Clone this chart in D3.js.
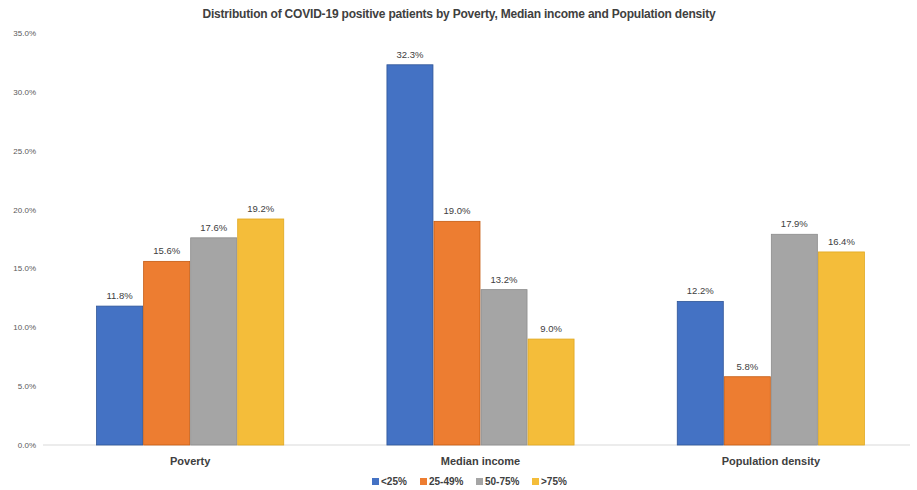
<!DOCTYPE html>
<html><head><meta charset="utf-8">
<script src="https://cdn.jsdelivr.net/npm/d3@7"></script>
<style>body{margin:0;background:#fff}svg{display:block}text{font-family:"Liberation Sans",Arial,sans-serif}</style>
</head><body><svg id="c" width="917" height="490"></svg>
<script>
const categories = ["Poverty", "Median income", "Population density"];
const seriesNames = ["<25%", "25-49%", "50-75%", ">75%"];
const poverty = [11.8, 15.6, 17.6, 19.2];
const medianIncome = [32.3, 19.0, 13.2, 9.0];
const populationDensity = [12.2, 5.8, 17.9, 16.4];
const yTicks = [0, 5, 10, 15, 20, 25, 30, 35];
const colors = ["#4472C4", "#ED7D31", "#A5A5A5", "#F4BD3A"];
const strokes = ["#2F5597", "#C55A11", "#8C8C8C", "#E0A820"];

const rows = [poverty, medianIncome, populationDensity];
const svg = d3.select("#c");

const y = d3.scaleLinear().domain([0, 35]).range([445, 33]);
const x0 = d3.scaleBand().domain(categories).range([45, 916]).padding(0);
const groupW = x0.bandwidth() * 0.648;
const x1 = d3.scaleBand().domain(seriesNames).range([0, groupW]).padding(0);

svg.append("text").attr("x", 459).attr("y", 18).attr("text-anchor", "middle")
  .attr("font-size", 12).attr("letter-spacing", -0.2).attr("font-weight", "bold").attr("fill", "#404040")
  .text("Distribution of COVID-19 positive patients by Poverty, Median income and Population density");

// y tick labels
const yAxis = d3.axisLeft(y).tickValues(yTicks).tickFormat(d => d.toFixed(1) + "%").tickSize(0).tickPadding(0);
const gy = svg.append("g").attr("transform", "translate(36,0)").call(yAxis);
gy.select(".domain").remove();
gy.selectAll("text").attr("font-size", 8).attr("fill", "#595959");

// baseline
svg.append("line").attr("x1", 43).attr("x2", 910).attr("y1", y(0)).attr("y2", y(0))
  .attr("stroke", "#D9D9D9").attr("stroke-width", 1);

const groups = svg.selectAll("g.grp").data(categories).join("g").attr("class", "grp")
  .attr("transform", d => `translate(${x0(d) + (x0.bandwidth() - groupW) / 2},0)`);

groups.each(function(cat, ci) {
  const g = d3.select(this);
  const vals = rows[ci].map((v, si) => ({ s: seriesNames[si], v, si }));
  g.selectAll("rect").data(vals).join("rect")
    .attr("x", d => x1(d.s) + 0.5).attr("width", x1.bandwidth() - 1)
    .attr("y", d => y(d.v)).attr("height", d => y(0) - y(d.v))
    .attr("fill", d => colors[d.si]).attr("stroke", d => strokes[d.si]).attr("stroke-width", 0.8);
  g.selectAll("text").data(vals).join("text")
    .attr("x", d => x1(d.s) + x1.bandwidth() / 2).attr("y", d => y(d.v) - 7)
    .attr("text-anchor", "middle").attr("font-size", 9.5).attr("fill", "#404040")
    .text(d => d.v.toFixed(1) + "%");
});

// category labels
svg.selectAll("text.cat").data(categories).join("text").attr("class", "cat")
  .attr("x", d => x0(d) + x0.bandwidth() / 2).attr("y", 465)
  .attr("text-anchor", "middle").attr("font-size", 11).attr("font-weight", "bold").attr("fill", "#404040")
  .text(d => d);

// legend
const legX = [372, 420, 476, 532];
const leg = svg.selectAll("g.leg").data(seriesNames).join("g").attr("class", "leg")
  .attr("transform", (d, i) => `translate(${legX[i]},478)`);
leg.append("rect").attr("width", 7).attr("height", 7).attr("fill", (d, i) => colors[i]);
leg.append("text").attr("x", 9).attr("y", 7).attr("font-size", 10).attr("font-weight", "bold").attr("fill", "#404040").text(d => d);
</script></body></html>
